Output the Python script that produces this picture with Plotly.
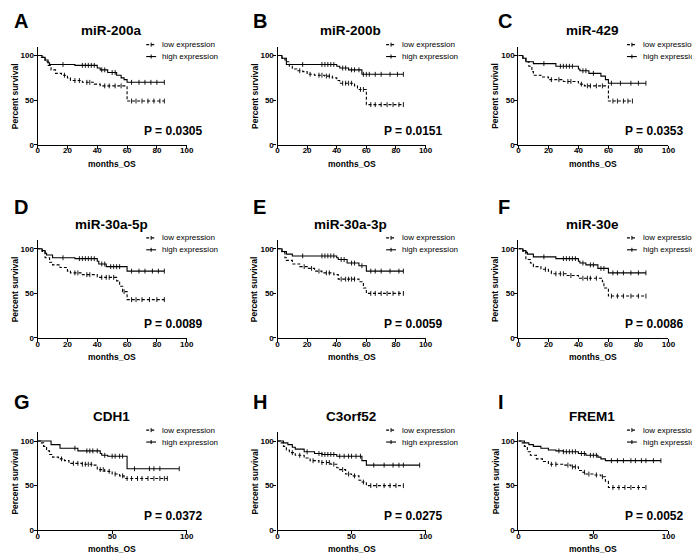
import numpy as np
import plotly.graph_objects as go

# ---------------- data ----------------
letters = ["A", "B", "C", "D", "E", "F", "G", "H", "I"]
titles = ["miR-200a", "miR-200b", "miR-429", "miR-30a-5p", "miR-30a-3p", "miR-30e",
          "CDH1", "C3orf52", "FREM1"]
p_values = ["0.0305", "0.0151", "0.0353", "0.0089", "0.0059", "0.0086",
            "0.0372", "0.0275", "0.0052"]
x_ticks_rows12 = [0, 20, 40, 60, 80, 100]
x_ticks_row3 = [0, 50, 100]
y_ticks = [0, 50, 100]
series_names = ["low expression", "high expression"]

A_high_t = [0, 3, 5, 7, 8, 25, 40, 42, 47, 53, 56, 58, 60, 85]
A_high_s = [100, 98, 95, 92, 90, 89, 86, 84, 81, 78, 75, 73, 70, 70]
A_high_c = [17, 30, 32, 34, 36, 38, 43, 45, 50, 52, 63, 68, 72, 76, 80, 85]
A_low_t = [0, 2, 5, 7, 9, 12, 16, 20, 22, 30, 38, 42, 60, 85]
A_low_s = [100, 98, 93, 89, 84, 80, 78, 75, 72, 70, 68, 66, 49, 49]
A_low_c = [18, 25, 28, 33, 35, 45, 48, 52, 56, 63, 66, 70, 74, 78, 82, 85]

B_high_t = [0, 3, 5, 6, 40, 42, 48, 57, 85]
B_high_s = [100, 97, 95, 90, 88, 86, 84, 79, 79]
B_high_c = [17, 30, 32, 34, 36, 38, 44, 46, 50, 52, 55, 58, 60, 62, 66, 70, 76, 81, 85]
B_low_t = [0, 3, 6, 8, 10, 13, 17, 20, 25, 32, 37, 40, 42, 52, 54, 60, 85]
B_low_s = [100, 97, 93, 88, 85, 83, 82, 79, 78, 77, 75, 72, 69, 66, 62, 45, 45]
B_low_c = [15, 22, 28, 30, 33, 35, 44, 46, 48, 50, 56, 58, 63, 66, 70, 74, 78, 82, 85]

C_high_t = [0, 3, 5, 10, 25, 40, 41, 47, 55, 58, 60, 85]
C_high_s = [100, 97, 93, 91, 88, 85, 83, 80, 77, 73, 69, 69]
C_high_c = [17, 28, 30, 32, 34, 36, 43, 45, 50, 62, 68, 75, 80, 85]
C_low_t = [0, 3, 5, 7, 9, 10, 15, 20, 30, 40, 44, 60, 76]
C_low_s = [100, 97, 93, 88, 82, 78, 76, 73, 71, 68, 66, 49, 49]
C_low_c = [22, 27, 33, 35, 42, 46, 48, 52, 56, 63, 66, 70, 73, 76]

D_high_t = [0, 3, 5, 6, 10, 25, 40, 41, 46, 60, 85]
D_high_s = [100, 98, 95, 93, 90, 89, 86, 83, 80, 75, 75]
D_high_c = [17, 28, 30, 32, 34, 36, 38, 43, 45, 49, 51, 53, 55, 63, 68, 72, 77, 81, 85]
D_low_t = [0, 3, 5, 8, 10, 15, 20, 22, 30, 40, 53, 55, 57, 60, 85]
D_low_s = [100, 97, 90, 85, 82, 79, 75, 73, 71, 68, 64, 58, 52, 43, 43]
D_low_c = [25, 27, 33, 35, 43, 46, 48, 51, 58, 63, 66, 70, 75, 80, 85]

E_high_t = [0, 3, 6, 10, 40, 41, 47, 55, 60, 85]
E_high_s = [100, 97, 94, 92, 90, 88, 84, 81, 75, 75]
E_high_c = [17, 30, 32, 34, 36, 38, 43, 45, 50, 52, 57, 63, 66, 70, 76, 82, 85]
E_low_t = [0, 3, 5, 6, 10, 15, 20, 25, 30, 38, 41, 55, 58, 60, 85]
E_low_s = [100, 96, 90, 87, 83, 80, 78, 75, 73, 71, 66, 63, 56, 50, 50]
E_low_c = [18, 23, 28, 33, 35, 43, 46, 48, 50, 52, 63, 66, 70, 74, 78, 82, 85]

F_high_t = [0, 3, 5, 6, 10, 25, 40, 41, 45, 53, 60, 85]
F_high_s = [100, 98, 96, 94, 91, 89, 86, 84, 82, 78, 73, 73]
F_high_c = [17, 30, 32, 34, 36, 38, 43, 48, 50, 55, 57, 63, 66, 70, 75, 80, 85]
F_low_t = [0, 3, 5, 8, 10, 15, 20, 22, 32, 40, 56, 57, 60, 85]
F_low_s = [100, 97, 88, 84, 80, 77, 75, 72, 70, 67, 63, 56, 47, 47]
F_low_c = [18, 25, 28, 30, 35, 43, 46, 48, 52, 62, 66, 70, 75, 80, 85]

G_high_t = [0, 9, 15, 27, 42, 43, 47, 60, 95]
G_high_s = [100, 96, 92, 89, 86, 84, 83, 69, 69]
G_high_c = [25, 33, 35, 37, 40, 45, 50, 52, 55, 57, 65, 75, 78, 82, 95]
G_low_t = [0, 2, 4, 6, 8, 10, 14, 18, 21, 30, 37, 40, 45, 50, 55, 58, 87]
G_low_s = [100, 98, 94, 89, 85, 82, 80, 78, 75, 74, 73, 68, 66, 63, 61, 58, 58]
G_low_c = [16, 24, 27, 30, 32, 34, 36, 42, 44, 48, 52, 57, 60, 63, 67, 70, 74, 78, 82, 85, 87]

H_high_t = [0, 4, 7, 10, 12, 18, 25, 30, 40, 57, 60, 96]
H_high_s = [100, 98, 96, 93, 91, 88, 86, 85, 83, 78, 73, 73]
H_high_c = [20, 28, 30, 32, 34, 36, 38, 42, 45, 48, 50, 53, 56, 65, 72, 78, 82, 85, 96]
H_low_t = [0, 2, 4, 6, 8, 12, 18, 22, 28, 36, 40, 42, 46, 50, 55, 57, 60, 85]
H_low_s = [100, 98, 94, 90, 87, 84, 81, 78, 76, 74, 70, 68, 63, 61, 56, 54, 50, 50]
H_low_c = [10, 15, 24, 30, 33, 35, 38, 44, 48, 52, 58, 63, 67, 72, 76, 80, 85]

I_high_t = [0, 4, 7, 10, 15, 20, 25, 30, 40, 45, 53, 55, 58, 95]
I_high_s = [100, 98, 96, 94, 92, 90, 89, 88, 86, 84, 82, 80, 78, 78]
I_high_c = [27, 30, 32, 34, 36, 38, 42, 44, 48, 50, 52, 62, 66, 70, 75, 78, 82, 85, 90, 95]
I_low_t = [0, 2, 4, 6, 8, 12, 16, 20, 30, 35, 40, 42, 45, 50, 55, 58, 60, 85]
I_low_s = [100, 98, 94, 88, 84, 80, 77, 74, 73, 71, 67, 65, 63, 62, 60, 55, 48, 48]
I_low_c = [22, 25, 33, 36, 38, 44, 47, 52, 56, 63, 67, 71, 75, 80, 85]

curves = {
    "A": ((A_low_t, A_low_s, A_low_c), (A_high_t, A_high_s, A_high_c)),
    "B": ((B_low_t, B_low_s, B_low_c), (B_high_t, B_high_s, B_high_c)),
    "C": ((C_low_t, C_low_s, C_low_c), (C_high_t, C_high_s, C_high_c)),
    "D": ((D_low_t, D_low_s, D_low_c), (D_high_t, D_high_s, D_high_c)),
    "E": ((E_low_t, E_low_s, E_low_c), (E_high_t, E_high_s, E_high_c)),
    "F": ((F_low_t, F_low_s, F_low_c), (F_high_t, F_high_s, F_high_c)),
    "G": ((G_low_t, G_low_s, G_low_c), (G_high_t, G_high_s, G_high_c)),
    "H": ((H_low_t, H_low_s, H_low_c), (H_high_t, H_high_s, H_high_c)),
    "I": ((I_low_t, I_low_s, I_low_c), (I_high_t, I_high_s, I_high_c)),
}

# ---------------- layout geometry (pixels) ----------------
W, H = 700, 553
col_x0 = [28, 271, 515]
col_x1 = [179, 421, 667]
row_y0 = [138, 333, 527]        # pixel y of survival 0
Y_TOP = 110                      # axis top value
PX_PER_UNIT_Y = 0.9
letter_y = [13.5, 201, 398]
letter_x = [2, 244, 492]

FONT = "Liberation Sans, Arial, sans-serif"


def px(x):
    return x / W


def py(y):
    return 1 - y / H


def surv_at(t, s, c):
    t = np.asarray(t, float)
    s = np.asarray(s, float)
    idx = np.searchsorted(t, np.asarray(c, float), side="right") - 1
    return s[np.clip(idx, 0, len(s) - 1)]


fig = go.Figure()
layout = dict(
    width=W, height=H, margin=dict(l=0, r=0, t=0, b=0),
    paper_bgcolor="white", plot_bgcolor="white", showlegend=False,
    font=dict(family=FONT, color="black"),
)
annotations = []
shapes = []

for i, letter in enumerate(letters):
    r, c = divmod(i, 3)
    n = i + 1
    xa = "x" if n == 1 else f"x{n}"
    ya = "y" if n == 1 else f"y{n}"
    x0, x1 = col_x0[c], col_x1[c]
    y0 = row_y0[r]
    ytop = y0 - Y_TOP * PX_PER_UNIT_Y
    y100 = y0 - 100 * PX_PER_UNIT_Y
    xt = x_ticks_rows12 if r < 2 else x_ticks_row3

    layout["xaxis" if n == 1 else f"xaxis{n}"] = dict(
        domain=[px(x0), px(x1)], range=[0, 100], anchor=ya,
        showgrid=False, zeroline=False, showline=True, linecolor="black", linewidth=1.2,
        ticks="outside", ticklen=3, tickwidth=1.2, tickcolor="black",
        tickvals=xt, ticktext=[str(v) for v in xt], ticklabelstandoff=-5,
        tickfont=dict(family=FONT, size=8, color="black", weight="bold"),
    )
    layout["yaxis" if n == 1 else f"yaxis{n}"] = dict(
        domain=[py(y0), py(ytop)], range=[0, Y_TOP], anchor=xa,
        showgrid=False, zeroline=False, showline=True, linecolor="black", linewidth=1.2,
        ticks="outside", ticklen=3, tickwidth=1.2, tickcolor="black",
        tickvals=y_ticks, ticktext=[str(v) for v in y_ticks], ticklabelstandoff=-2,
        tickfont=dict(family=FONT, size=8, color="black", weight="bold"),
    )

    for k, (t, s, cens) in enumerate(curves[letter]):
        dash = "3px,2px" if k == 0 else "solid"
        fig.add_trace(go.Scatter(
            x=t, y=s, mode="lines", line=dict(color="black", width=1.1, dash=dash, shape="hv"),
            xaxis=xa, yaxis=ya, name=series_names[k], hoverinfo="skip",
        ))
        fig.add_trace(go.Scatter(
            x=cens, y=surv_at(t, s, cens), mode="markers",
            marker=dict(symbol="line-ns", size=3.5, line=dict(color="black", width=0.9)),
            xaxis=xa, yaxis=ya, name=series_names[k], hoverinfo="skip",
        ))

    # panel letter
    annotations.append(dict(text=f"<b>{letter}</b>", x=px(letter_x[c]), y=py(letter_y[r]),
                            xref="paper", yref="paper", xanchor="left", yanchor="middle",
                            showarrow=False, font=dict(size=20, family=FONT)))
    # title
    annotations.append(dict(text=f"<b>{titles[i]}</b>", x=px((x0 + x1) / 2 - 1), y=py(y100 - 25),
                            xref="paper", yref="paper", xanchor="center", yanchor="middle",
                            showarrow=False, font=dict(size=13.5, family=FONT)))
    # axis titles
    annotations.append(dict(text="<b>months_OS</b>", x=px((x0 + x1) / 2), y=py(y0 + 19),
                            xref="paper", yref="paper", xanchor="center", yanchor="middle",
                            showarrow=False, font=dict(size=8.5, family=FONT)))
    annotations.append(dict(text="<b>Percent survival</b>", x=px(x0 - 23), y=py(y0 - 49),
                            xref="paper", yref="paper", xanchor="center", yanchor="middle",
                            textangle=-90, showarrow=False, font=dict(size=8.5, family=FONT)))
    # P value
    annotations.append(dict(text=f"<b>P = {p_values[i]}</b>", x=px(x0 + 106), y=py(y0 - 14),
                            xref="paper", yref="paper", xanchor="left", yanchor="middle",
                            showarrow=False, font=dict(size=12, family=FONT)))
    # legend
    for k, name in enumerate(series_names):
        ly = y100 - 11 if k == 0 else y100 + 1
        shapes.append(dict(type="line", xref="paper", yref="paper",
                           x0=px(x0 + 110), x1=px(x0 + 120), y0=py(ly), y1=py(ly),
                           line=dict(color="black", width=1.1,
                                     dash="3px,2px" if k == 0 else "solid")))
        shapes.append(dict(type="line", xref="paper", yref="paper",
                           x0=px(x0 + 115), x1=px(x0 + 115), y0=py(ly - 2), y1=py(ly + 2),
                           line=dict(color="black", width=1)))
        annotations.append(dict(text=name, x=px(x0 + 124), y=py(ly),
                                xref="paper", yref="paper", xanchor="left", yanchor="middle",
                                showarrow=False, font=dict(size=8, family=FONT)))

layout["annotations"] = annotations
layout["shapes"] = shapes
fig.update_layout(**layout)
fig.write_html("out.html")
